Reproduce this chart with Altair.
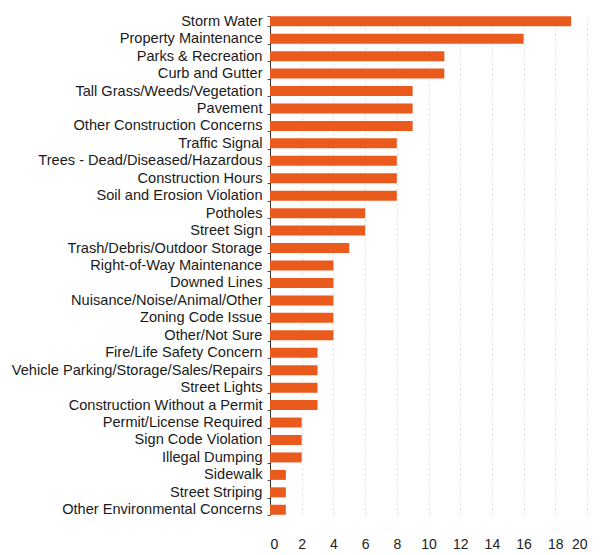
import altair as alt
import pandas as pd

categories = [
    "Storm Water", "Property Maintenance", "Parks & Recreation", "Curb and Gutter",
    "Tall Grass/Weeds/Vegetation", "Pavement", "Other Construction Concerns",
    "Traffic Signal", "Trees - Dead/Diseased/Hazardous", "Construction Hours",
    "Soil and Erosion Violation", "Potholes", "Street Sign",
    "Trash/Debris/Outdoor Storage", "Right-of-Way Maintenance", "Downed Lines",
    "Nuisance/Noise/Animal/Other", "Zoning Code Issue", "Other/Not Sure",
    "Fire/Life Safety Concern", "Vehicle Parking/Storage/Sales/Repairs",
    "Street Lights", "Construction Without a Permit", "Permit/License Required",
    "Sign Code Violation", "Illegal Dumping", "Sidewalk", "Street Striping",
    "Other Environmental Concerns",
]
counts = [19, 16, 11, 11, 9, 9, 9, 8, 8, 8, 8, 6, 6, 5, 4, 4, 4, 4, 4, 3, 3, 3, 3,
          2, 2, 2, 1, 1, 1]
x_ticks = [0, 2, 4, 6, 8, 10, 12, 14, 16, 18, 20]

df = pd.DataFrame({"category": categories, "count": counts})

chart = alt.Chart(df).mark_bar(color="#EA5A1C", size=10).encode(
    x=alt.X("count:Q", scale=alt.Scale(domain=[0, 20], nice=False),
            axis=alt.Axis(title=None, values=x_ticks, ticks=False, domain=False,
                          labelFontSize=14, labelColor="#222", labelPadding=22,
                          labelFont="Liberation Sans",
                          grid=True, gridColor="#bbbbbb", gridDash=[2, 3],
                          gridOpacity=0.5)),
    y=alt.Y("category:N", sort=categories,
            axis=alt.Axis(title=None, labelFontSize=14.6, labelColor="#1a1a1a",
                          labelFont="Liberation Sans", labelPadding=5,
                          tickBand="extent", tickSize=3, tickColor="#555",
                          domainColor="#333", domainWidth=1, labelLimit=400)),
).properties(
    width=317, height=499,
    padding={"left": 3, "top": 0, "right": 5, "bottom": 2},
).configure_view(stroke=None).configure_scale(
    bandPaddingInner=0.4, bandPaddingOuter=0.0
)

chart.save("out.html", embed_options={"renderer": "svg", "actions": False})
